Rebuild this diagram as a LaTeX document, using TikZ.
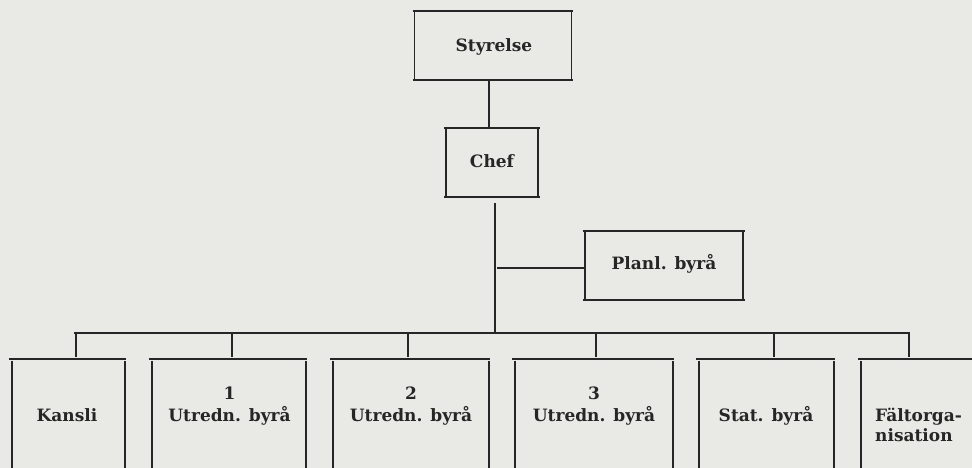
\documentclass[tikz,border=0pt]{standalone}
\usepackage{fontspec}
\newfontfamily\boxfont{DejaVu Serif}
\definecolor{paper}{RGB}{233,233,229}
\definecolor{ink}{RGB}{38,38,38}
\tikzset{
  x=1pt, y=1pt,
  rule/.style={draw=ink, line width=1.6pt},
  orgbox/.style={draw=none, inner sep=0pt, rectangle},
  lbl/.style={inner sep=0pt, text=ink, font=\boxfont\fontsize{17}{22}\selectfont\bfseries, align=center, anchor=base},
}
\newcommand\closedbox[1]{%
  \draw[rule] ([xshift=-2pt]#1.north west) -- ([xshift=2pt]#1.north east);
  \draw[rule] ([xshift=-2pt]#1.south west) -- ([xshift=2pt]#1.south east);
  \draw[rule] ([yshift=-1pt]#1.north west) -- ([yshift=1pt]#1.south west);
  \draw[rule] ([yshift=-1pt]#1.north east) -- ([yshift=1pt]#1.south east);}
\newcommand\openbox[1]{%
  \draw[rule] ([xshift=-3pt]#1.north west) -- ([xshift=1pt]#1.north east);
  \draw[rule] ([yshift=-2pt]#1.north west) -- (#1.south west);
  \draw[rule] ([yshift=-2pt]#1.north east) -- (#1.south east);}
\begin{document}
\begin{tikzpicture}
\fill[paper] (0,0) rectangle (972,468);
\useasboundingbox (0,0) rectangle (972,468);
\clip (0,0) rectangle (972,468);

% upper boxes
\node[orgbox, minimum width=156.5pt, minimum height=69pt] (sty) at (493,422.5) {};
\node[orgbox, minimum width=92pt, minimum height=69pt] (chef) at (492,305.5) {};
\node[orgbox, minimum width=158pt, minimum height=69pt] (planl) at (664,202.5) {};
\closedbox{sty}
\closedbox{chef}
\closedbox{planl}
\node[lbl] (tsty) at (494,416) {Styrelse};
\node[lbl] (tchef) at (492,300) {Chef};
\node[lbl] (tplanl) at (664,198) {Planl. byrå};

% lower boxes (run off the bottom of the page)
\node[orgbox, minimum width=113pt, minimum height=129pt] (kansli) at (68.5,44.5) {};
\node[orgbox, minimum width=154pt, minimum height=129pt] (ua) at (229,44.5) {};
\node[orgbox, minimum width=156pt, minimum height=129pt] (ub) at (411,44.5) {};
\node[orgbox, minimum width=158pt, minimum height=129pt] (uc) at (594,44.5) {};
\node[orgbox, minimum width=135pt, minimum height=129pt] (stat) at (766.5,44.5) {};
\node[orgbox, minimum width=139pt, minimum height=129pt] (falt) at (930.5,44.5) {};
\openbox{kansli}
\openbox{ua}
\openbox{ub}
\openbox{uc}
\openbox{stat}
\openbox{falt}
\node[lbl] (tkansli) at (67,46) {Kansli};
\node[lbl] (tua) at (229.5,46) {1\\Utredn. byrå};
\node[lbl] (tub) at (411,46) {2\\Utredn. byrå};
\node[lbl] (tuc) at (594,46) {3\\Utredn. byrå};
\node[lbl] (tstat) at (766,46) {Stat. byrå};
\node[lbl, anchor=base west, align=left, font=\boxfont\fontsize{17}{20}\selectfont\bfseries] (tfalt) at (875,26) {Fältorga-\\nisation};

% connectors
\coordinate (s1) at (489,388);
\coordinate (s2) at (489,340);
\draw[rule] (s1) -- (s2);
\coordinate (c1) at (495,265);
\coordinate (bc) at (495,135);
\draw[rule] (c1) -- (bc);
\coordinate (p1) at (497,200);
\draw[rule] (p1) -- (planl.west |- p1);
\coordinate (busl) at (74,135);
\coordinate (busr) at (910,135);
\draw[rule] (busl) -- (busr);
\foreach \dx/\bx in {76/kansli, 232/ua, 408/ub, 596/uc, 774/stat, 909/falt}{
  \coordinate (d) at (\dx,135);
  \draw[rule] (d) -- ([yshift=2pt]d |- \bx.north);
}
\end{tikzpicture}
\end{document}
